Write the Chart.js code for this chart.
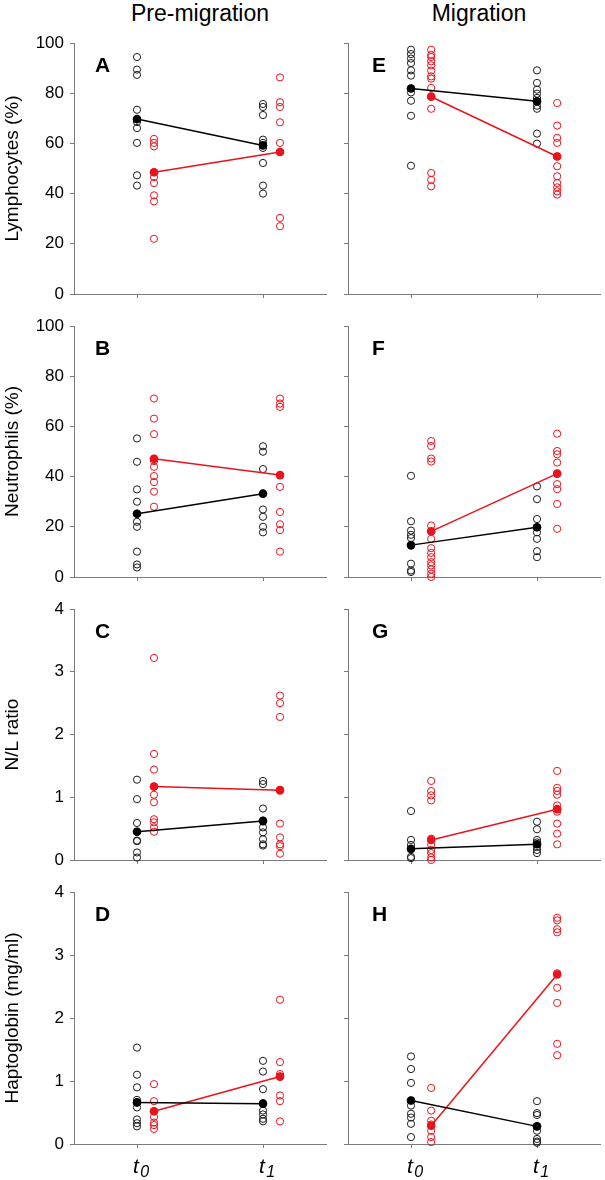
<!DOCTYPE html>
<html><head><meta charset="utf-8">
<script src="https://cdn.jsdelivr.net/npm/chart.js@4.4.1/dist/chart.umd.min.js"></script>
<style>
html,body{margin:0;padding:0;background:#fff;}
body{width:605px;height:1180px;position:relative;overflow:hidden;font-family:"Liberation Sans",Arial,sans-serif;}
.col-title{position:absolute;top:0;height:26px;line-height:26px;font-size:23px;color:#000;text-align:center;width:220px;}
canvas{position:absolute;}
</style></head><body>
<div class="col-title" style="left:90px">Pre-migration</div>
<div class="col-title" style="left:369px">Migration</div>
<script>
// ---------- categories / labels ----------
const timeLabels = ['t0', 't1'];
const columnTitles = ['Pre-migration', 'Migration'];
const rowTitles = ['Lymphocytes (%)', 'Neutrophils (%)', 'N/L ratio', 'Haptoglobin (mg/ml)'];
const panelLetters = ['A', 'B', 'C', 'D', 'E', 'F', 'G', 'H'];

// ---------- Panel A: Lymphocytes, pre-migration ----------
const A_black_t0 = [94.4, 89.4, 87.3, 73.4, 69.5, 68.5, 66.1, 60.2, 47.3, 43.2];
const A_black_t1 = [75.7, 74.5, 71.3, 61.5, 60.2, 58.2, 52.2, 43.2, 40.0];
const A_red_t0 = [61.8, 60.2, 58.8, 48.5, 46.6, 44.2, 39.3, 36.9, 22.0];
const A_red_t1 = [86.3, 76.4, 74.5, 68.4, 60.2, 56.6, 30.3, 27.0];
const A_black_mean = [69.7, 59.2];
const A_red_mean = [48.5, 56.6];

// ---------- Panel B: Neutrophils, pre-migration ----------
const B_black_t0 = [55.2, 45.9, 34.9, 30.0, 25.2, 22.0, 20.0, 10.1, 5.0, 3.8];
const B_black_t1 = [52.1, 49.9, 43.0, 33.2, 26.9, 24.0, 20.0, 17.8];
const B_red_t0 = [71.1, 63.1, 56.9, 47.1, 46.2, 43.9, 40.2, 37.8, 34.0, 28.0];
const B_red_t1 = [71.1, 69.1, 67.8, 40.6, 35.9, 25.9, 21.0, 18.7, 10.1];
const B_black_mean = [25.2, 33.2];
const B_red_mean = [47.1, 40.6];

// ---------- Panel C: N/L ratio, pre-migration ----------
const C_black_t0 = [1.28, 0.97, 0.59, 0.45, 0.31, 0.30, 0.12, 0.04];
const C_black_t1 = [1.26, 1.21, 0.82, 0.63, 0.52, 0.44, 0.33, 0.25, 0.23];
const C_red_t0 = [3.22, 1.69, 1.44, 1.17, 1.04, 0.92, 0.65, 0.60, 0.52, 0.45];
const C_red_t1 = [2.62, 2.50, 2.28, 1.12, 0.58, 0.36, 0.25, 0.22, 0.10];
const C_black_mean = [0.45, 0.62];
const C_red_mean = [1.17, 1.11];

// ---------- Panel D: Haptoglobin, pre-migration ----------
const D_black_t0 = [1.53, 1.10, 0.90, 0.70, 0.66, 0.58, 0.39, 0.33, 0.28];
const D_black_t1 = [1.32, 1.15, 0.87, 0.65, 0.53, 0.47, 0.40, 0.36];
const D_red_t0 = [0.95, 0.68, 0.52, 0.43, 0.34, 0.30, 0.24];
const D_red_t1 = [2.29, 1.30, 1.11, 1.07, 0.77, 0.68, 0.36];
const D_black_mean = [0.66, 0.64];
const D_red_mean = [0.52, 1.07];

// ---------- Panel E: Lymphocytes, migration ----------
const E_black_t0 = [97.3, 95.6, 93.8, 92.0, 89.1, 87.0, 81.9, 80.3, 77.0, 71.0, 51.1];
const E_black_t1 = [89.1, 84.1, 81.4, 79.8, 78.1, 76.8, 75.0, 73.8, 63.9, 59.9];
const E_red_t0 = [97.3, 95.3, 94.4, 92.7, 91.1, 89.0, 86.7, 85.8, 82.1, 78.8, 73.8, 48.2, 45.5, 42.9];
const E_red_t1 = [76.1, 67.1, 62.2, 60.2, 54.8, 50.9, 46.9, 44.2, 42.5, 40.9, 39.6];
const E_black_mean = [81.9, 76.8];
const E_red_mean = [78.6, 54.8];

// ---------- Panel F: Neutrophils, migration ----------
const F_black_t0 = [40.3, 22.2, 18.5, 16.8, 15.5, 12.5, 5.3, 2.6, 2.0];
const F_black_t1 = [36.1, 31.0, 23.1, 19.8, 17.8, 15.2, 10.3, 7.9];
const F_red_t0 = [54.2, 52.2, 47.2, 46.0, 20.5, 18.2, 15.2, 11.5, 9.6, 7.9, 5.9, 4.6, 3.0, 1.3, 0];
const F_red_t1 = [57.1, 50.2, 48.9, 45.6, 41.2, 37.0, 35.0, 29.1, 19.2];
const F_black_mean = [12.7, 19.8];
const F_red_mean = [18.2, 41.2];

// ---------- Panel G: N/L ratio, migration ----------
const G_black_t0 = [0.78, 0.32, 0.24, 0.17, 0.05, 0.03];
const G_black_t1 = [0.61, 0.49, 0.32, 0.28, 0.21, 0.16, 0.11];
const G_red_t0 = [1.26, 1.10, 1.03, 0.95, 0.34, 0.24, 0.16, 0.11, 0.04, 0];
const G_red_t1 = [1.42, 1.15, 1.10, 1.04, 0.87, 0.81, 0.77, 0.58, 0.42, 0.25];
const G_black_mean = [0.18, 0.25];
const G_red_mean = [0.32, 0.81];

// ---------- Panel H: Haptoglobin, migration ----------
const H_black_t0 = [1.39, 1.19, 0.97, 0.69, 0.61, 0.48, 0.42, 0.32, 0.11];
const H_black_t1 = [0.68, 0.49, 0.46, 0.28, 0.21, 0.08, 0.04, 0.02];
const H_red_t0 = [0.89, 0.53, 0.37, 0.31, 0.21, 0.11, 0.03];
const H_red_t1 = [3.59, 3.55, 3.41, 3.36, 2.71, 2.48, 2.24, 1.59, 1.41];
const H_black_mean = [0.69, 0.28];
const H_red_mean = [0.29, 2.69];

// ---------- y-axis ranges per row ----------
const rowYMax = [100, 100, 4, 4];
const rowYStep = [20, 20, 1, 1];

// ---------- styling / layout (not data) ----------
const FAMILY = '"Liberation Sans", Arial, sans-serif';
const BLACK = '#000000';
const BLACK_OPEN = '#1c1c1c';
const RED = '#e8141c';
const AXIS = '#7a7a7a';
const PLOT_W = 253;
const rowTop = [43, 326, 609, 892];
const rowBottom = [294, 577, 860, 1144];
const colLeft = [74, 348];
const colCanvasLeft = [0, 330];
const redShift = [0.135, 0.16];
const PAD_TOP = 20, PAD_RIGHT = 4;

const panelData = {
  A: [A_black_t0, A_black_t1, A_red_t0, A_red_t1, A_black_mean, A_red_mean],
  B: [B_black_t0, B_black_t1, B_red_t0, B_red_t1, B_black_mean, B_red_mean],
  C: [C_black_t0, C_black_t1, C_red_t0, C_red_t1, C_black_mean, C_red_mean],
  D: [D_black_t0, D_black_t1, D_red_t0, D_red_t1, D_black_mean, D_red_mean],
  E: [E_black_t0, E_black_t1, E_red_t0, E_red_t1, E_black_mean, E_red_mean],
  F: [F_black_t0, F_black_t1, F_red_t0, F_red_t1, F_black_mean, F_red_mean],
  G: [G_black_t0, G_black_t1, G_red_t0, G_red_t1, G_black_mean, G_red_mean],
  H: [H_black_t0, H_black_t1, H_red_t0, H_red_t1, H_black_mean, H_red_mean]
};

const annotPlugin = {
  id: 'annot',
  afterDraw(chart, args, opts) {
    const ctx = chart.ctx, a = chart.chartArea;
    ctx.save();
    ctx.fillStyle = '#000';
    ctx.textBaseline = 'alphabetic';
    ctx.textAlign = 'left';
    ctx.font = 'bold 21px ' + FAMILY;
    ctx.fillText(opts.letter, a.left + opts.letterDx, a.top + 29);
    if (opts.showX) {
      const xs = chart.scales.x;
      timeLabels.forEach((lab, i) => {
        const px = xs.getPixelForValue(i + 1);
        const main = lab.charAt(0), sub = lab.slice(1);
        ctx.font = 'italic 21px ' + FAMILY;
        const x0 = px - 4;
        ctx.fillText(main, x0, a.bottom + 29);
        const w = ctx.measureText(main).width;
        ctx.font = 'italic 16px ' + FAMILY;
        ctx.fillText(sub, x0 + w + 1.5, a.bottom + 33);
      });
    }
    ctx.restore();
  }
};

function pts(x, arr) { return arr.map(v => ({x: x, y: v})); }

panelLetters.forEach((letter, idx) => {
  const col = idx < 4 ? 0 : 1;
  const row = idx % 4;
  const [bt0, bt1, rt0, rt1, bm, rm] = panelData[letter];
  const shift = redShift[col];
  const yAxisW = colLeft[col] - colCanvasLeft[col];
  const showX = row === 3;
  const xAxisH = showX ? 36 : 8;
  const top = rowTop[row] - PAD_TOP;
  const w = yAxisW + PLOT_W + PAD_RIGHT;
  const h = (rowBottom[row] - rowTop[row]) + PAD_TOP + xAxisH;
  const cv = document.createElement('canvas');
  cv.width = w; cv.height = h;
  cv.style.left = colCanvasLeft[col] + 'px';
  cv.style.top = top + 'px';
  cv.style.width = w + 'px'; cv.style.height = h + 'px';
  document.body.appendChild(cv);

  const gridOpts = {drawOnChartArea: false, drawTicks: true, tickLength: 4, color: AXIS, lineWidth: 1};
  new Chart(cv.getContext('2d'), {
    type: 'scatter',
    data: {
      datasets: [
        {label: 'black mean', data: [{x: 1, y: bm[0]}, {x: 2, y: bm[1]}], showLine: true,
         borderColor: BLACK, borderWidth: 1.5, pointRadius: 4.3, pointBorderWidth: 0,
         pointBackgroundColor: BLACK, backgroundColor: BLACK, clip: false},
        {label: 'red mean', data: [{x: 1 + shift, y: rm[0]}, {x: 2 + shift, y: rm[1]}], showLine: true,
         borderColor: RED, borderWidth: 1.5, pointRadius: 4.3, pointBorderWidth: 0,
         pointBackgroundColor: RED, backgroundColor: RED, clip: false},
        {label: 'black', data: pts(1, bt0).concat(pts(2, bt1)), pointRadius: 3.6, pointBorderWidth: 1,
         pointBorderColor: BLACK_OPEN, pointBackgroundColor: 'rgba(0,0,0,0)', clip: false},
        {label: 'red', data: pts(1 + shift, rt0).concat(pts(2 + shift, rt1)), pointRadius: 3.6, pointBorderWidth: 1,
         pointBorderColor: RED, pointBackgroundColor: 'rgba(0,0,0,0)', clip: false}
      ]
    },
    options: {
      responsive: false, animation: false, events: [], devicePixelRatio: 1,
      layout: {padding: {top: PAD_TOP, right: PAD_RIGHT, left: 0, bottom: 0}},
      plugins: {legend: {display: false}, tooltip: {enabled: false},
        annot: {letter: letter, letterDx: col === 0 ? 21 : 24, showX: showX}},
      scales: {
        x: {type: 'linear', min: 0.5, max: 2.5,
          afterBuildTicks: s => { s.ticks = [{value: 1}, {value: 2}]; },
          afterFit: s => { s.height = xAxisH; s.paddingLeft = 0; s.paddingRight = 0; },
          grid: gridOpts, border: {display: true, color: AXIS, width: 1},
          ticks: {display: false}},
        y: {type: 'linear', min: 0, max: rowYMax[row],
          afterFit: s => { s.width = yAxisW; s.paddingTop = 0; s.paddingBottom = 0; },
          grid: gridOpts, border: {display: true, color: AXIS, width: 1},
          ticks: {display: col === 0, stepSize: rowYStep[row], color: '#000', padding: 6,
            font: {size: 17, family: FAMILY}},
          title: {display: col === 0, text: rowTitles[row], color: '#000',
            font: {size: 19, family: FAMILY}, padding: {top: 1, bottom: 0}}}
      }
    },
    plugins: [annotPlugin]
  });
});
</script>
</body></html>
